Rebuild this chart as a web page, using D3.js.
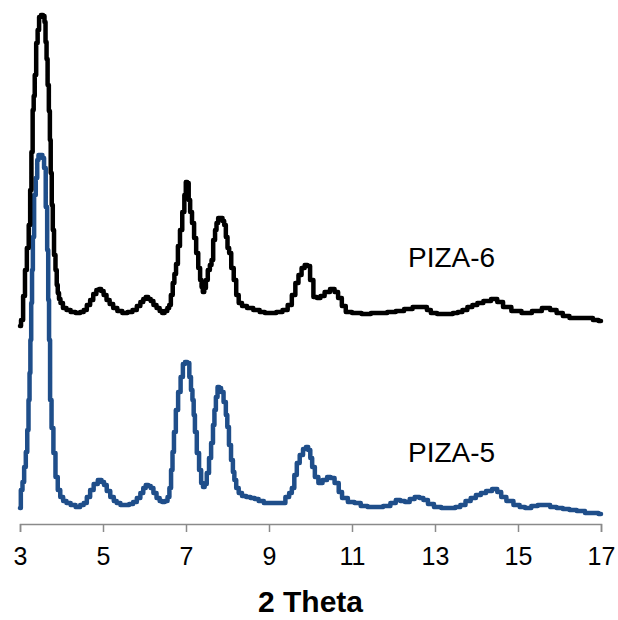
<!DOCTYPE html>
<html>
<head>
<meta charset="utf-8">
<script src="https://cdn.jsdelivr.net/npm/d3@7"></script>
<style>
  html, body { margin: 0; padding: 0; background: #fff; }
  svg { display: block; }
  text { font-family: "Liberation Sans", Arial, sans-serif; }
</style>
</head>
<body>
<svg id="chart" width="618" height="620"></svg>
<script>
// Powder XRD patterns, intensity in arbitrary units vs 2θ (degrees)
const piza5Theta = [
  3.00, 3.04, 3.08, 3.12, 3.16, 3.19, 3.22, 3.24, 3.26, 3.28, 3.30, 3.32, 3.36, 3.40, 3.43, 3.46,
  3.52, 3.56, 3.60, 3.64, 3.67, 3.69, 3.71, 3.74, 3.78, 3.83, 3.88, 3.94, 4.00, 4.08, 4.16, 4.28,
  4.40, 4.50, 4.57, 4.65, 4.73, 4.82, 4.93, 5.00, 5.05, 5.13, 5.22, 5.30, 5.36, 5.48, 5.58, 5.68,
  5.77, 5.86, 5.94, 6.00, 6.06, 6.12, 6.18, 6.25, 6.33, 6.40, 6.45, 6.53, 6.58, 6.62, 6.66, 6.69,
  6.73, 6.78, 6.84, 6.90, 6.95, 7.00, 7.06, 7.10, 7.14, 7.17, 7.20, 7.23, 7.29, 7.34, 7.39, 7.43,
  7.47, 7.53, 7.58, 7.63, 7.67, 7.70, 7.74, 7.78, 7.82, 7.87, 7.94, 7.98, 8.01, 8.06, 8.11, 8.15,
  8.18, 8.24, 8.30, 8.40, 8.50, 8.61, 8.70, 8.80, 8.95, 9.10, 9.20, 9.34, 9.45, 9.52, 9.58, 9.64,
  9.70, 9.78, 9.86, 9.92, 9.97, 10.02, 10.06, 10.15, 10.23, 10.35, 10.45, 10.52, 10.64, 10.72, 10.80, 11.00,
  11.12, 11.30, 11.45, 11.65, 11.85, 12.00, 12.11, 12.22, 12.33, 12.45, 12.57, 12.68, 12.76, 12.90, 13.05, 13.25,
  13.43, 13.55, 13.67, 13.80, 13.92, 14.05, 14.16, 14.30, 14.45, 14.55, 14.64, 14.80, 14.98, 15.10, 15.24, 15.40,
  15.55, 15.70, 15.85, 16.01, 16.15, 16.33, 16.50, 16.73, 16.88, 17.00
];
const piza5Counts = [
  160, 340, 420, 570, 720, 940, 1240, 1510, 1840, 2210, 2540, 2870, 3290, 3460, 3640, 3690,
  3690, 3660, 3560, 3170, 2740, 2240, 1840, 1240, 960, 710, 470, 340, 270, 230, 210, 190,
  170, 190, 210, 270, 340, 400, 440, 420, 390, 330, 270, 230, 210, 190, 190, 200,
  220, 260, 310, 360, 390, 380, 360, 310, 260, 230, 220, 230, 270, 360, 540, 720,
  920, 1140, 1320, 1470, 1600, 1620, 1610, 1470, 1340, 1240, 1090, 920, 710, 540, 410, 370,
  400, 510, 660, 810, 990, 1140, 1270, 1370, 1360, 1320, 1220, 1090, 970, 790, 640, 520,
  440, 360, 310, 280, 270, 260, 250, 230, 210, 210, 210, 210, 270, 310, 360, 490,
  610, 690, 750, 770, 740, 660, 570, 470, 410, 440, 470, 460, 410, 320, 260, 220,
  210, 180, 170, 170, 180, 210, 240, 230, 220, 250, 270, 260, 240, 200, 170, 160,
  160, 170, 190, 230, 260, 290, 310, 330, 350, 320, 270, 230, 190, 170, 160, 180,
  190, 190, 170, 160, 150, 140, 130, 110, 110, 100
];

const piza6Theta = [
  3.00, 3.05, 3.10, 3.14, 3.19, 3.23, 3.26, 3.29, 3.32, 3.34, 3.37, 3.41, 3.44, 3.48, 3.53, 3.58,
  3.60, 3.63, 3.65, 3.68, 3.71, 3.73, 3.75, 3.78, 3.80, 3.84, 3.87, 3.90, 3.92, 3.96, 3.99, 4.08,
  4.16, 4.28, 4.40, 4.50, 4.57, 4.65, 4.73, 4.80, 4.88, 4.93, 4.98, 5.05, 5.12, 5.20, 5.29, 5.40,
  5.53, 5.65, 5.77, 5.86, 5.94, 6.00, 6.06, 6.12, 6.18, 6.25, 6.33, 6.40, 6.45, 6.52, 6.58, 6.61,
  6.66, 6.70, 6.74, 6.78, 6.83, 6.88, 6.94, 6.98, 7.01, 7.05, 7.08, 7.12, 7.17, 7.22, 7.27, 7.32,
  7.36, 7.39, 7.42, 7.46, 7.50, 7.55, 7.60, 7.63, 7.68, 7.72, 7.75, 7.80, 7.86, 7.90, 7.94, 7.98,
  8.02, 8.06, 8.12, 8.18, 8.24, 8.30, 8.40, 8.54, 8.70, 8.85, 8.95, 9.10, 9.25, 9.40, 9.50, 9.60,
  9.67, 9.75, 9.82, 9.90, 9.95, 10.03, 10.11, 10.20, 10.28, 10.40, 10.54, 10.62, 10.71, 10.80, 10.90, 11.10,
  11.36, 11.55, 11.75, 11.95, 12.16, 12.35, 12.57, 12.76, 12.85, 12.95, 13.15, 13.36, 13.50, 13.60, 13.72, 13.84,
  13.96, 14.08, 14.25, 14.45, 14.55, 14.73, 14.95, 15.22, 15.45, 15.70, 15.85, 16.01, 16.15, 16.33, 16.55, 16.73,
  16.88, 17.00
];
const piza6Counts = [
  80, 140, 380, 640, 860, 1090, 1440, 1820, 2240, 2380, 2590, 2910, 3040, 3170, 3190, 3180,
  3120, 2920, 2750, 2490, 2230, 1940, 1610, 1290, 1040, 790, 640, 490, 410, 350, 310, 260,
  240, 220, 210, 220, 240, 290, 340, 400, 440, 450, 430, 390, 340, 300, 260, 230,
  210, 220, 240, 280, 320, 350, 370, 350, 330, 290, 260, 230, 210, 230, 260, 290,
  390, 510, 600, 700, 880, 1040, 1220, 1390, 1520, 1510, 1340, 1220, 1110, 960, 810, 660,
  540, 470, 420, 460, 540, 640, 690, 740, 940, 1040, 1110, 1160, 1160, 1130, 1090, 970,
  860, 810, 660, 540, 390, 310, 280, 260, 240, 220, 210, 210, 220, 240, 290, 390,
  510, 590, 660, 690, 680, 540, 370, 360, 380, 420, 450, 420, 360, 280, 220, 210,
  200, 210, 210, 220, 230, 250, 270, 270, 240, 210, 200, 200, 210, 220, 240, 270,
  290, 310, 330, 350, 320, 270, 230, 210, 230, 260, 240, 210, 180, 160, 160, 160,
  140, 130
];

// PIZA-6 is stacked above PIZA-5 by a constant offset
const piza6Offset = 1900;

const xTicks = [3, 5, 7, 9, 11, 13, 15, 17];
const seriesNames = ["PIZA-5", "PIZA-6"];
const seriesColors = ["#1f4e8a", "#000000"];
const axisTitle = "2 Theta";

const svg = d3.select("#chart");
const margin = { left: 20, right: 17, top: 4, bottom: 96 };
const W = 618, H = 620;

const x = d3.scaleLinear().domain([3, 17]).range([margin.left, W - margin.right]);
const y = d3.scaleLinear().domain([0, 5200]).range([H - margin.bottom, margin.top]);

const series = [
  { name: seriesNames[0], color: seriesColors[0],
    pts: piza5Theta.map((t, i) => [t, piza5Counts[i]]), labelAt: [13.4, 620] },
  { name: seriesNames[1], color: seriesColors[1],
    pts: piza6Theta.map((t, i) => [t, piza6Counts[i] + piza6Offset]), labelAt: [13.4, 2570] }
];

// Stepped trace, as recorded by the diffractometer
const line = d3.line()
  .x(d => x(d[0]))
  .y(d => y(d[1]))
  .curve(d3.curveStep);

// Axis
const axis = d3.axisBottom(x).tickValues(xTicks).tickSize(8).tickPadding(15).tickFormat(d3.format("d"));
const gAxis = svg.append("g")
  .attr("transform", `translate(0,${y(0)})`)
  .call(axis);
gAxis.select(".domain").attr("stroke", "#8a8a8a").attr("stroke-width", 1.5);
gAxis.selectAll(".tick line").attr("stroke", "#8a8a8a").attr("stroke-width", 1.5);
gAxis.selectAll(".tick text")
  .attr("fill", "#000")
  .style("font-family", '"Liberation Sans", Arial, sans-serif')
  .style("font-size", "25px");

// Patterns
series.forEach(s => {
  svg.append("path")
    .datum(s.pts)
    .attr("fill", "none")
    .attr("stroke", s.color)
    .attr("stroke-width", 4.5)
    .attr("stroke-linejoin", "round")
    .attr("stroke-linecap", "round")
    .attr("d", line);

  svg.append("text")
    .attr("x", x(s.labelAt[0]))
    .attr("y", y(s.labelAt[1]))
    .attr("text-anchor", "middle")
    .attr("font-size", 28)
    .attr("fill", "#000")
    .text(s.name);
});

// Axis title
svg.append("text")
  .attr("x", (x(3) + x(17)) / 2)
  .attr("y", 612)
  .attr("text-anchor", "middle")
  .attr("font-size", 30)
  .attr("font-weight", "bold")
  .attr("fill", "#000")
  .text(axisTitle);
</script>
</body>
</html>
